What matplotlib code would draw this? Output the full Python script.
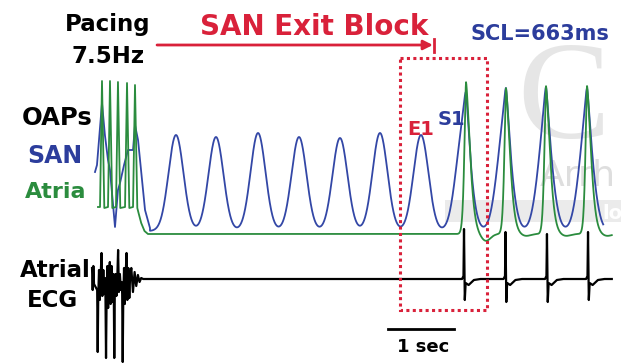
import numpy as np
import matplotlib.pyplot as plt
from matplotlib.patches import Rectangle

# x axis: seconds from the start of the pacing train (1 sec bar = 66 px)
# y axis: drawing units, 0 at the top of the panel, growing downward

# --- OAPs during 7.5 Hz pacing ---
atria_pace_t = [0.106, 0.227, 0.348, 0.485, 0.606]
atria_pace_top = [81, 81, 82, 83, 85]
san_pace_t = [0.0, 0.03, 0.06, 0.106, 0.15, 0.197, 0.227, 0.303, 0.348,
              0.379, 0.44, 0.5, 0.576, 0.606, 0.652, 0.697, 0.758, 0.833]
san_pace_y = [172, 165, 140, 103, 135, 160, 170, 227, 190,
              183, 165, 150, 150, 125, 140, 170, 210, 228]

# --- SAN beats during exit block (atria silent) ---
san_block_t = [1.227, 1.833, 2.470, 3.091, 3.712, 4.318, 4.939]
san_block_peak = [135, 137, 133, 137, 138, 133, 135]

# --- conducted beats after block, SCL = 663 ms ---
san_cond_t = [5.576, 6.197, 6.818, 7.439]
san_cond_peak = [92, 88, 87, 88]
atria_cond_t = [5.621, 6.227, 6.833, 7.455]
atria_cond_peak = [82, 88, 86, 86]
atria_cond_dip = [7, 2, 2, 2]

# --- atrial ECG ---
ecg_pace_t = [0.041, 0.167, 0.292, 0.420]
ecg_pace_low = [352, 358, 358, 362]
ecg_pace_high = [253, 262, 250, 253]
ecg_pace_wig_hi = [270, 266, 274, 268]
ecg_pace_wig_lo = [296, 304, 292, 300]
ecg_cond_t = [5.591, 6.220, 6.848, 7.470]
ecg_cond_high = [229, 232, 234, 232]
ecg_cond_low = [300, 302, 302, 300]

SAN_BASE = 231
ATRIA_BASE = 234
ECG_BASE = 279

BLUE = '#3347a6'
GREEN = '#2b8c3e'
RED = '#d9213a'
TXT_BLUE = '#2c3d9c'


def bump(t, t0, w, p=2.0):
    return np.exp(-(np.abs(t - t0) / w) ** p)


def skew_spike(t, t0, rise, fall):
    dt = t - t0
    w = np.where(dt < 0, rise, fall)
    return np.exp(-(np.abs(dt) / w) ** 1.5)


fig = plt.figure(figsize=(6.21, 3.63), dpi=100)
ax = fig.add_axes([0, 0, 1, 1])
ax.set_xlim(-95 / 66, 526 / 66)
ax.set_ylim(363, 0)
ax.axis('off')

# faint watermark of the source journal
ax.add_patch(Rectangle((5.3, 200), 2.8, 22, color='#ebebeb', lw=0, zorder=0))
ax.text(6.40, 138, 'C', fontsize=100, family='Liberation Serif', color='#e6e6e6', zorder=0)
ax.text(6.74, 186, 'Arrh', fontsize=26, color='#dedede', zorder=0)
ax.text(7.68, 219, 'lo', fontsize=14, fontweight='bold', color='white', zorder=0)

# SAN optical AP
tt = np.linspace(0.833, 7.70, 3000)
san = np.full_like(tt, SAN_BASE, dtype=float)
for t0, pk in zip(san_block_t, san_block_peak):
    san -= (SAN_BASE - pk) * bump(tt, t0, 0.16)
for t0, ta, pk in zip(san_cond_t, atria_cond_t, san_cond_peak):
    ped = 94 * bump(tt, t0, 0.16)
    top = (SAN_BASE - pk) - 94 * bump(np.array(ta), t0, 0.16)
    san -= ped + top * bump(tt, ta, 0.06, 1.4)
san_t = np.concatenate([san_pace_t, tt])
san_y = np.concatenate([san_pace_y, san])
ax.plot(san_t, san_y, color=BLUE, lw=1.3, zorder=3)

# atrial optical AP
gx, gy = [0.045], [207]
for t0, top in zip(atria_pace_t, atria_pace_top):
    gx += [t0 - 0.03, t0, t0 + 0.035]
    gy += [207, top, 208]
gx += [0.66, 0.70, 0.75]
gy += [213, 223, 231]
tg = np.linspace(0.80, 7.83, 3000)
atr = np.full_like(tg, ATRIA_BASE, dtype=float)
for t0, pk, dip in zip(atria_cond_t, atria_cond_peak, atria_cond_dip):
    atr -= (ATRIA_BASE - pk) * skew_spike(tg, t0, 0.035, 0.085)
    atr += dip * bump(tg, t0 + 0.3, 0.1)
ax.plot(np.concatenate([gx, tg]), np.concatenate([gy, atr]), color=GREEN, lw=1.3, zorder=4)

# atrial ECG
ex, ey = [-0.045, -0.035, -0.025, -0.015], [268, 290, 266, 284]
for t0, lo, hi, wh, wl in zip(ecg_pace_t, ecg_pace_low, ecg_pace_high,
                              ecg_pace_wig_hi, ecg_pace_wig_lo):
    ex += [t0 - 0.008, t0, t0 + 0.008, t0 + 0.02, t0 + 0.032, t0 + 0.045,
           t0 + 0.058, t0 + 0.07, t0 + 0.085, t0 + 0.1, t0 + 0.112]
    ey += [wl - 6, lo, wl, wh, wl + 4, wh + 6, hi, wl, wh, wl - 2, wh + 8]
ex += [0.55, 0.575, 0.60, 0.625, 0.65, 0.675, 0.70, 0.73]
ey += [268, 292, 272, 286, 275, 282, 278, ECG_BASE]
for t0, hi, lo in zip(ecg_cond_t, ecg_cond_high, ecg_cond_low):
    ex += [t0 - 0.03, t0 - 0.008, t0, t0 + 0.012, t0 + 0.025,
           t0 + 0.07, t0 + 0.15, t0 + 0.25]
    ey += [ECG_BASE, 276, hi, lo, 283, 285, 280, ECG_BASE]
ex += [7.83]
ey += [ECG_BASE]
ax.plot(ex, ey, color='black', lw=1.6, zorder=3)

# exit block arrow and dotted window
ax.annotate('', xy=(5.12, 45), xytext=(0.94, 45),
            arrowprops=dict(arrowstyle='-|>', color=RED, lw=2, mutation_scale=14,
                            shrinkA=0, shrinkB=0))
ax.plot([5.14, 5.14], [39, 52], color=RED, lw=2)
ax.add_patch(Rectangle((4.621, 58), 1.318, 252, fill=False, ec=RED, lw=2.2,
                       ls=(0, (1, 1.1)), zorder=5))

# 1 sec scale bar
ax.plot([4.439, 5.439], [329, 329], color='black', lw=2)
ax.text(4.576, 352, '1 sec', fontsize=13, fontweight='bold')

# labels
bold = dict(fontweight='bold')
ax.text(0.197, 31, 'Pacing', fontsize=16.5, ha='center', **bold)
ax.text(0.197, 63, '7.5Hz', fontsize=16.5, ha='center', **bold)
ax.text(1.591, 35, 'SAN Exit Block', fontsize=20, color=RED, **bold)
ax.text(5.682, 40, 'SCL=663ms', fontsize=15, color=TXT_BLUE, **bold)
ax.text(-1.106, 125, 'OAPs', fontsize=17.5, **bold)
ax.text(-1.03, 163, 'SAN', fontsize=17, color=TXT_BLUE, **bold)
ax.text(-1.06, 198, 'Atria', fontsize=16, color=GREEN, **bold)
ax.text(-1.136, 277, 'Atrial', fontsize=16.5, **bold)
ax.text(-1.03, 307, 'ECG', fontsize=16.5, **bold)
ax.text(4.727, 135, 'E1', fontsize=14, color=RED, **bold)
ax.text(5.197, 125, 'S1', fontsize=14, color=TXT_BLUE, **bold)

fig.savefig('out.png', dpi=100)
